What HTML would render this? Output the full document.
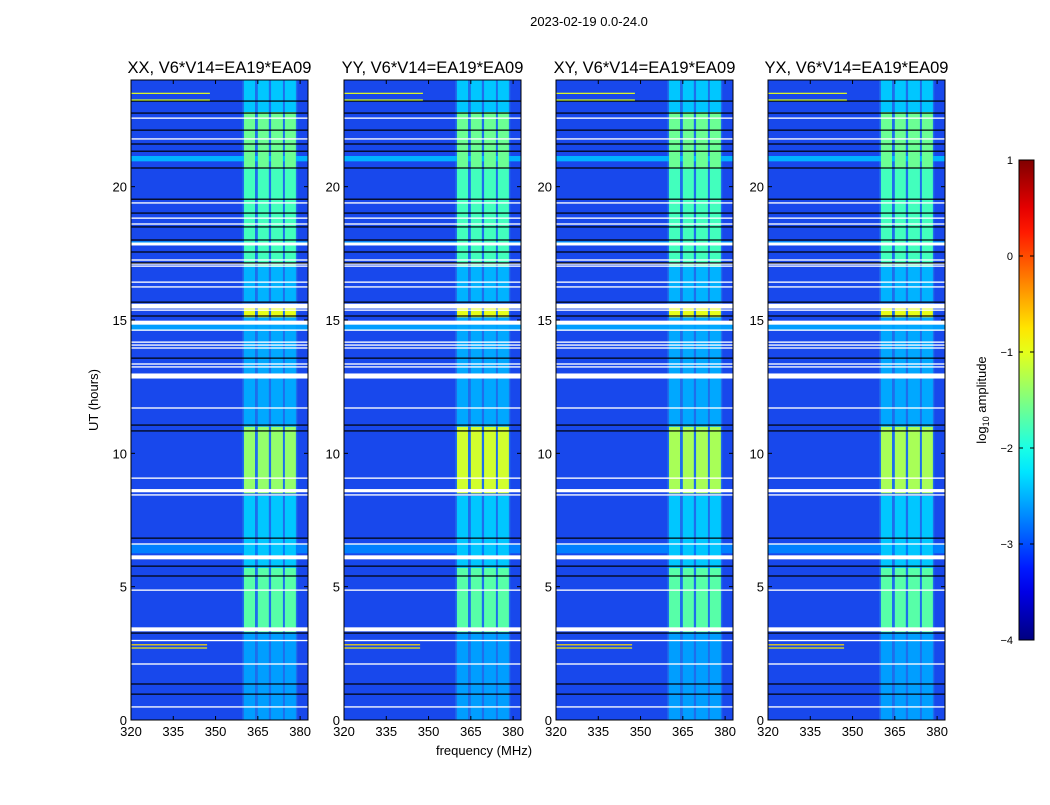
<!DOCTYPE html>
<html><head><meta charset="utf-8">
<style>
body{margin:0;background:#fff;}
svg text{font-family:"Liberation Sans",sans-serif;}
</style></head>
<body>
<svg id="chart" width="1050" height="800" xmlns="http://www.w3.org/2000/svg">
<text x="589" y="26" font-size="13" text-anchor="middle">2023-02-19 0.0-24.0</text>
<text x="98" y="400" font-size="13" text-anchor="middle" transform="rotate(-90 98 400)">UT (hours)</text>
<text x="484" y="755" font-size="13" text-anchor="middle">frequency (MHz)</text>
<g id="panels"></g>
<g id="cbar"></g>
</svg>
<script>
const panelTitles = ["XX, V6*V14=EA19*EA09","YY, V6*V14=EA19*EA09","XY, V6*V14=EA19*EA09","YX, V6*V14=EA19*EA09"];
const xTicks = [320,335,350,365,380];
const yTicks = [0,5,10,15,20];
const cbTicks = [1,0,-1,-2,-3,-4];
// band columns (MHz)
const bandCols = [[360.1,364.0],[365.0,368.9],[369.7,373.9],[374.6,378.5]];
// band intensity segments [startHour, endHour, log10 amp]
const bandSegStart = [0,3.3,5.7,8.5,11,15.1,15.7,17,20.7,22.8];
const bandSegEnd   = [3.3,5.7,8.4,11,15.1,15.6,17,20.7,22.8,24];
const bandSegLevel = [-2.6,-1.7,-2.4,-1.4,-2.55,-1.0,-2.5,-1.8,-1.6,-2.4];
const panelBoost = [0,0.3,0.1,0.1];
// full-width enhanced strips
const stripStart = [20.95,6.25,17.8,14.6];
const stripEnd   = [21.15,6.6,17.95,14.9];
const stripLevel = [-2.5,-2.75,-2.6,-2.6];
// flagged (white) rows
const whiteHours = [22.57,21.79,19.39,18.82,18.6,17.85,17.25,17.1,17.02,16.42,16.24,15.52,15.37,14.9,14.62,14.17,14.06,13.95,13.35,13.24,12.9,11.7,9.07,8.6,8.44,6.6,6.1,4.87,3.4,2.98,2.1,0.49];
const whiteSpans = [0.05,0.05,0.05,0.05,0.05,0.11,0.05,0.05,0.05,0.05,0.05,0.18,0.05,0.15,0.05,0.05,0.05,0.05,0.05,0.05,0.19,0.05,0.05,0.12,0.05,0.05,0.15,0.05,0.15,0.05,0.05,0.05];
// black rows
const blackHours = [23.21,22.76,22.12,21.6,21.33,20.7,19.53,19.01,18.49,18.0,17.55,17.14,15.67,15.15,13.57,11.06,10.84,6.82,5.77,5.4,3.26,1.35,0.97];
// RFI lines
const rfiHour = [2.82,2.7,23.5,23.25];
const rfiF0 = [320,320,320,320];
const rfiF1 = [347,347,348,348];
const rfiLevel = [-0.7,-0.8,-1.0,-1.1];

const NS="http://www.w3.org/2000/svg";
function jet(v){let t=(v+4)/5;t=Math.max(0,Math.min(1,t));
 const c=x=>Math.round(255*Math.max(0,Math.min(1,x)));
 return `rgb(${c(1.5-Math.abs(4*t-3))},${c(1.5-Math.abs(4*t-2))},${c(1.5-Math.abs(4*t-1))})`;}
function mk(tag,attrs,parent){const e=document.createElementNS(NS,tag);for(const k in attrs)e.setAttribute(k,attrs[k]);parent.appendChild(e);return e;}
const panelX=[131,344,556,768], PW=177, PT=80, PB=720;
const fMin=320,fMax=382.8,hMax=24;
const panels=document.getElementById('panels');
panelX.forEach((x0,p)=>{
 const sx=f=>x0+(f-fMin)/(fMax-fMin)*PW;
 const sy=h=>PB-(h/hMax)*(PB-PT);
 const g=mk('g',{},panels);
 
 
 const bg=mk('rect',{x:x0,y:PT,width:PW,height:PB-PT,fill:'rgb(24,72,236)'},g);
 
 
 mk('rect',{x:sx(359.5),y:PT,width:sx(379)-sx(359.5),height:PB-PT,fill:'rgb(30,110,235)'},g);
 stripStart.forEach((s,i)=>{const r=mk('rect',{x:x0,y:sy(stripEnd[i]),width:PW,height:sy(s)-sy(stripEnd[i]),fill:jet(stripLevel[i])},g);
  
  });
 bandCols.forEach(bc=>{bandSegStart.forEach((s,i)=>{
  let lv=bandSegLevel[i]; if(s===8.5) lv+=panelBoost[p];
  const r=mk('rect',{x:sx(bc[0]),y:sy(bandSegEnd[i]),width:sx(bc[1])-sx(bc[0]),height:sy(s)-sy(bandSegEnd[i]),fill:jet(lv)},g);
  
  });});
 whiteHours.forEach((h,i)=>{const r=mk('rect',{x:x0,y:sy(h+whiteSpans[i]/2),width:PW,height:Math.max(1.3,sy(h)-sy(h+whiteSpans[i])),fill:'#fff'},g);
  
  });
 blackHours.forEach(h=>{const r=mk('rect',{x:x0,y:sy(h)-0.6,width:PW,height:1.2,fill:'#000'},g);
  
  });
 rfiHour.forEach((h,i)=>{const r=mk('rect',{x:sx(rfiF0[i]),y:sy(h)-0.6,width:sx(rfiF1[i])-sx(rfiF0[i]),height:1.2,fill:jet(rfiLevel[i])},g);
  
  });
 mk('rect',{x:x0,y:PT,width:PW,height:PB-PT,fill:'none',stroke:'#000','stroke-width':1},g);
 const t=mk('text',{x:x0+PW/2,y:73,'font-size':16.5,'text-anchor':'middle'},g);t.textContent=panelTitles[p];
 
 
 xTicks.forEach(f=>{const x=sx(f);
  mk('line',{x1:x,x2:x,y1:PB,y2:PB-4,stroke:'#000'},g);mk('line',{x1:x,x2:x,y1:PT,y2:PT+4,stroke:'#000'},g);
  const l=mk('text',{x:x,y:PB+16,'font-size':13,'text-anchor':'middle'},g);l.textContent=f;
  
  });
 yTicks.forEach(h=>{const y=sy(h);
  mk('line',{x1:x0,x2:x0+4,y1:y,y2:y,stroke:'#000'},g);mk('line',{x1:x0+PW,x2:x0+PW-4,y1:y,y2:y,stroke:'#000'},g);
  const l=mk('text',{x:x0-4,y:y+5,'font-size':13,'text-anchor':'end'},g);l.textContent=h;
  
  });
});
const cb=document.getElementById('cbar');


const cbX=1019,cbW=15,cbT=160,cbB=640;
const defs=mk('defs',{},cb);const lg=mk('linearGradient',{id:'jetg',x1:0,y1:1,x2:0,y2:0},defs);
for(let i=0;i<=20;i++){const v=-4+5*i/20;mk('stop',{offset:i/20,'stop-color':jet(v)},lg);}
mk('rect',{x:cbX,y:cbT,width:cbW,height:cbB-cbT,fill:'url(#jetg)',stroke:'#000'},cb);
cbTicks.forEach(v=>{const y=cbB-(v+4)/5*(cbB-cbT);
 mk('line',{x1:cbX,x2:cbX+4,y1:y,y2:y,stroke:'#000'},cb);mk('line',{x1:cbX+cbW,x2:cbX+cbW-4,y1:y,y2:y,stroke:'#000'},cb);
 const l=mk('text',{x:cbX-6,y:y+4,'font-size':11,'text-anchor':'end'},cb);l.textContent=(v<0?'\u2212':'')+Math.abs(v);
 
 });
const cl=mk('text',{x:986,y:400,'font-size':13,'text-anchor':'middle',transform:'rotate(-90 986 400)'},cb);
cl.innerHTML='log<tspan font-size="9" dy="3">10</tspan><tspan dy="-3"> amplitude</tspan>';


</script>
</body></html>
